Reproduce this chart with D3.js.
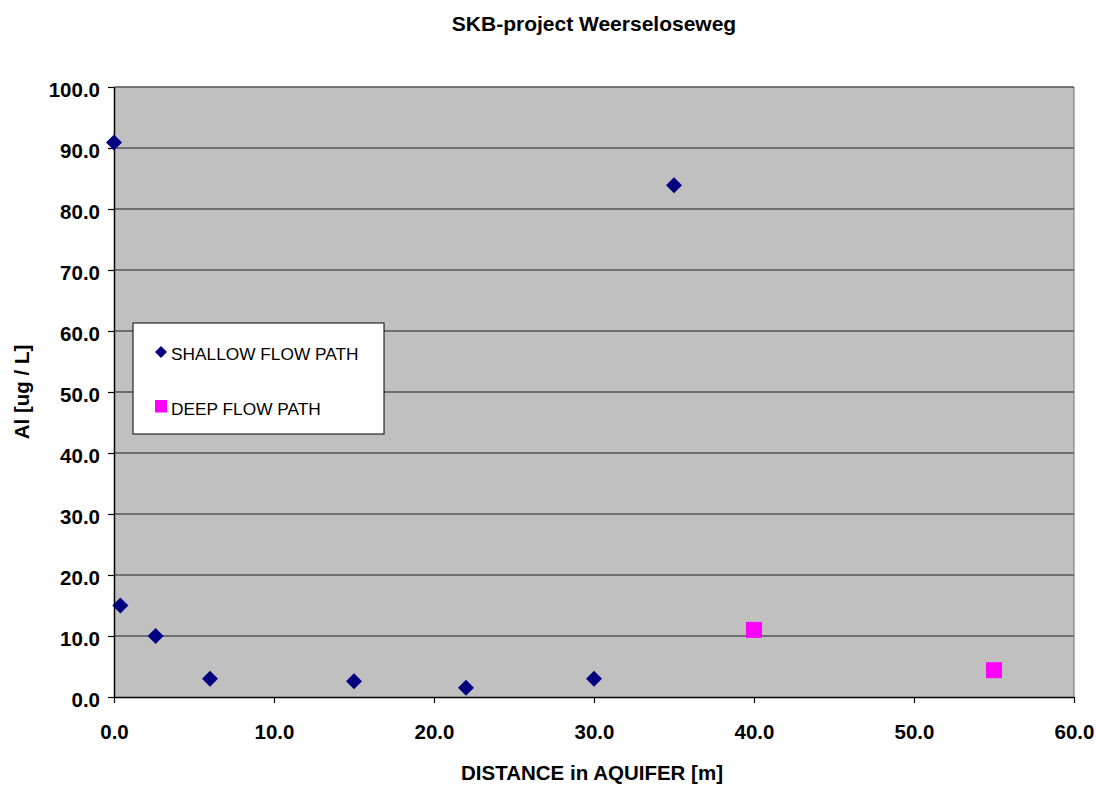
<!DOCTYPE html>
<html>
<head>
<meta charset="utf-8">
<script src="https://cdn.jsdelivr.net/npm/d3@7"></script>
<style>
  html, body { margin: 0; padding: 0; background: #fff; }
  svg { display: block; font-family: "Liberation Sans", Arial, sans-serif; }
</style>
</head>
<body>
<svg id="chart" width="1096" height="785"></svg>
<script>
// Aluminium concentration along the two flow paths
const shallowDistance = [0, 0.4, 2.6, 6, 15, 22, 30, 35];
const shallowAl = [90.9, 15.0, 10.0, 3.0, 2.6, 1.5, 3.0, 83.9];
const deepDistance = [40, 55];
const deepAl = [11.0, 4.4];

const xTicks = [0, 10, 20, 30, 40, 50, 60];
const yTicks = [0, 10, 20, 30, 40, 50, 60, 70, 80, 90, 100];

const chartTitle = "SKB-project Weerseloseweg";
const xTitle = "DISTANCE in AQUIFER [m]";
const yTitle = "Al [ug / L]";
const seriesNames = ["SHALLOW FLOW PATH", "DEEP FLOW PATH"];

const svg = d3.select("#chart");
const plot = { left: 114, right: 1074, top: 87, bottom: 697 };

const x = d3.scaleLinear().domain([0, 60]).range([plot.left, plot.right]);
const y = d3.scaleLinear().domain([0, 100]).range([plot.bottom, plot.top]);

// plot background
svg.append("rect")
  .attr("x", plot.left).attr("y", plot.top)
  .attr("width", plot.right - plot.left).attr("height", plot.bottom - plot.top)
  .attr("fill", "#c0c0c0");

// right border
svg.append("line")
  .attr("x1", plot.right).attr("x2", plot.right)
  .attr("y1", plot.top).attr("y2", plot.bottom)
  .attr("stroke", "#808080").attr("stroke-width", 1.2);

// horizontal gridlines
svg.append("g").selectAll("line")
  .data(yTicks.filter(d => d > 0))
  .join("line")
  .attr("x1", plot.left).attr("x2", plot.right)
  .attr("y1", d => y(d)).attr("y2", d => y(d))
  .attr("stroke", "#555").attr("stroke-width", 1.5);

// axes
const fmt = d3.format(".1f");
const xAxis = svg.append("g")
  .attr("transform", `translate(0,${plot.bottom})`)
  .call(d3.axisBottom(x).tickValues(xTicks).tickFormat(fmt).tickSize(6).tickPadding(21).tickSizeOuter(0));
const yAxis = svg.append("g")
  .attr("transform", `translate(${plot.left},0)`)
  .call(d3.axisLeft(y).tickValues(yTicks).tickFormat(fmt).tickSize(6).tickPadding(8).tickSizeOuter(0));

[xAxis, yAxis].forEach(g => {
  g.select(".domain").attr("stroke", "#000").attr("stroke-width", 1.5);
  g.selectAll(".tick line").attr("stroke", "#000").attr("stroke-width", 1.2);
  g.selectAll(".tick text")
    .attr("fill", "#000")
    .style("font-size", "20.5px")
    .style("font-weight", "bold")
    .style("font-family", "'Liberation Sans', Arial, sans-serif");
});
yAxis.selectAll(".tick text").attr("dy", "0.45em");

// titles
svg.append("text")
  .attr("x", (plot.left + plot.right) / 2).attr("y", 31)
  .attr("text-anchor", "middle")
  .style("font-size", "21px").style("font-weight", "bold")
  .text(chartTitle);

svg.append("text")
  .attr("x", (plot.left + plot.right) / 2 - 2).attr("y", 780)
  .attr("text-anchor", "middle")
  .style("font-size", "20.5px").style("font-weight", "bold")
  .text(xTitle);

svg.append("text")
  .attr("transform", `translate(29,${(plot.top + plot.bottom) / 2}) rotate(-90)`)
  .attr("text-anchor", "middle")
  .style("font-size", "20.5px").style("font-weight", "bold")
  .text(yTitle);

// markers
const diamond = r => `M0,${-r}L${r},0L0,${r}L${-r},0Z`;

svg.append("g").selectAll("path")
  .data(d3.zip(shallowDistance, shallowAl))
  .join("path")
  .attr("transform", d => `translate(${x(d[0])},${y(d[1])})`)
  .attr("d", diamond(8))
  .attr("fill", "#000080");

const sq = 16;
svg.append("g").selectAll("rect")
  .data(d3.zip(deepDistance, deepAl))
  .join("rect")
  .attr("x", d => x(d[0]) - sq / 2).attr("y", d => y(d[1]) - sq / 2)
  .attr("width", sq).attr("height", sq)
  .attr("fill", "#ff00ff");

// legend
const legend = svg.append("g");
legend.append("rect")
  .attr("x", 133).attr("y", 323).attr("width", 251).attr("height", 111)
  .attr("fill", "#fff").attr("stroke", "#000").attr("stroke-width", 1);
legend.append("path")
  .attr("transform", "translate(161,352)")
  .attr("d", diamond(6))
  .attr("fill", "#000080");
legend.append("rect")
  .attr("x", 155).attr("y", 400).attr("width", 12).attr("height", 12.5)
  .attr("fill", "#ff00ff");
legend.selectAll("text.lbl")
  .data(seriesNames)
  .join("text")
  .attr("class", "lbl")
  .attr("x", 171).attr("y", (d, i) => 360 + i * 55)
  .style("font-size", "17.3px")
  .attr("fill", "#000")
  .text(d => d);
</script>
</body>
</html>
